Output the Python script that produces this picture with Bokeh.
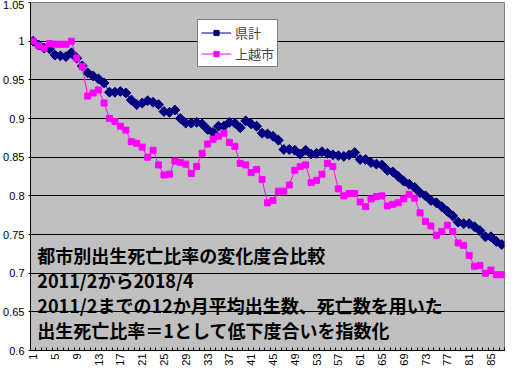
from math import pi
from bokeh.plotting import figure
from bokeh.models import Range1d, FixedTicker, NumeralTickFormatter, Label, Legend
from bokeh.embed import file_html
from bokeh.resources import INLINE

# ---- data ----
months = list(range(1, 88))
ken_label = "県計"
joetsu_label = "上越市"
ken = [1.0, 0.995, 0.991, 0.99, 0.982, 0.981, 0.98, 0.985, 0.978, 0.968,
       0.959, 0.955, 0.951, 0.946, 0.934, 0.934, 0.935, 0.933, 0.924, 0.918,
       0.92, 0.923, 0.921, 0.918, 0.909, 0.908, 0.911, 0.9, 0.894, 0.894,
       0.895, 0.893, 0.886, 0.882, 0.89, 0.89, 0.895, 0.894, 0.888, 0.897,
       0.893, 0.89, 0.881, 0.88, 0.877, 0.872, 0.86, 0.86, 0.859, 0.854,
       0.859, 0.854, 0.855, 0.857, 0.855, 0.853, 0.852, 0.851, 0.853, 0.856,
       0.847, 0.847, 0.843, 0.841, 0.84, 0.833, 0.831, 0.825, 0.819, 0.815,
       0.811, 0.804, 0.80, 0.794, 0.791, 0.786, 0.78, 0.774, 0.766, 0.764,
       0.764, 0.76, 0.755, 0.747, 0.747, 0.741, 0.737]
joetsu = [1.0, 0.994, 0.991, 0.997, 0.996, 0.996, 0.996, 1.0, 0.978, 0.967,
          0.929, 0.933, 0.937, 0.92, 0.9, 0.896, 0.89, 0.885, 0.87, 0.868,
          0.863, 0.85, 0.859, 0.84, 0.827, 0.828, 0.845, 0.843, 0.841, 0.829,
          0.838, 0.855, 0.867, 0.873, 0.877, 0.881, 0.869, 0.864, 0.842, 0.84,
          0.83, 0.834, 0.821, 0.791, 0.794, 0.806, 0.806, 0.814, 0.833, 0.838,
          0.84, 0.817, 0.82, 0.828, 0.842, 0.838, 0.809, 0.80, 0.803, 0.803,
          0.792, 0.786, 0.796, 0.799, 0.80, 0.787, 0.789, 0.791, 0.796, 0.802,
          0.797, 0.778, 0.767, 0.761, 0.749, 0.754, 0.762, 0.754, 0.739, 0.736,
          0.723, 0.709, 0.71, 0.70, 0.704, 0.698, 0.698]
x_tick_values = [1, 5, 9, 13, 17, 21, 25, 29, 33, 37, 41, 45, 49, 53, 57, 61, 65, 69, 73, 77, 81, 85]
y_tick_values = [0.6, 0.65, 0.7, 0.75, 0.8, 0.85, 0.9, 0.95, 1.0, 1.05]
note_lines = ["都市別出生死亡比率の変化度合比較",
              "2011/2から2018/4",
              "2011/2までの12か月平均出生数、死亡数を用いた",
              "出生死亡比率＝1として低下度合いを指数化"]
note_y = [0.7229, 0.691, 0.6585, 0.627]

p = figure(width=507, height=372, output_backend="svg", toolbar_location=None,
           x_range=Range1d(0.5, 87.5), y_range=Range1d(0.6, 1.05),
           background_fill_color="#C0C0C0", border_fill_color="white",
           outline_line_color="#808080", outline_line_width=1,
           min_border_left=27, min_border_right=3, min_border_top=2, min_border_bottom=22)

# axes
xa = p.xaxis[0]
xa.ticker = FixedTicker(ticks=x_tick_values, minor_ticks=[m - 0.5 for m in months] + [87.5])
xa.major_label_orientation = pi / 2
xa.major_tick_in = 0
xa.major_tick_out = 0
xa.minor_tick_in = 3
xa.minor_tick_out = 0
xa.minor_tick_line_color = "black"
xa.axis_line_color = "black"
xa.major_label_text_font = "Liberation Sans"
xa.major_label_text_font_size = "11px"
xa.major_label_text_color = "black"
xa.major_label_standoff = 3

ya = p.yaxis[0]
ya.ticker = FixedTicker(ticks=y_tick_values, minor_ticks=[])
ya.formatter = NumeralTickFormatter(format="0.[00]")
ya.major_tick_in = 0
ya.major_tick_out = 2
ya.minor_tick_in = 0
ya.minor_tick_out = 0
ya.axis_line_color = "black"
ya.major_tick_line_color = "black"
ya.major_label_text_font = "Liberation Sans"
ya.major_label_text_font_size = "11px"
ya.major_label_text_color = "black"
ya.major_label_standoff = 4

p.xgrid.visible = False
p.ygrid.ticker = FixedTicker(ticks=y_tick_values)
p.ygrid.grid_line_color = "black"
p.ygrid.grid_line_width = 1

# series
l1 = p.line(months, ken, line_color="#000080", line_width=1)
s1 = p.scatter(months, ken, marker="square", angle=pi / 4, size=7,
               fill_color="#000080", line_color="#000080")
l2 = p.line(months, joetsu, line_color="#FF00FF", line_width=1)
s2 = p.scatter(months, joetsu, marker="square", size=6,
               fill_color="#FF00FF", line_color="#FF00FF")

legend = Legend(items=[(ken_label, [l1, s1]), (joetsu_label, [l2, s2])],
                location=(167, 283))
legend.border_line_color = "black"
legend.border_line_width = 1
legend.background_fill_color = "white"
legend.background_fill_alpha = 1
legend.label_text_font = "Noto Sans CJK JP"
legend.label_text_font_size = "13px"
legend.label_height = 13
legend.glyph_height = 13
legend.glyph_width = 30
legend.label_standoff = 4
legend.padding = 3
legend.spacing = 2
legend.margin = 0
p.add_layout(legend, "center")

for txt, yy in zip(note_lines, note_y):
    p.add_layout(Label(x=1.76, y=yy, text=txt, text_font="Noto Sans CJK JP",
                       text_font_style="bold", text_font_size="18px",
                       text_baseline="middle", text_color="black"))

open("out.html", "w").write(file_html(p, INLINE))
